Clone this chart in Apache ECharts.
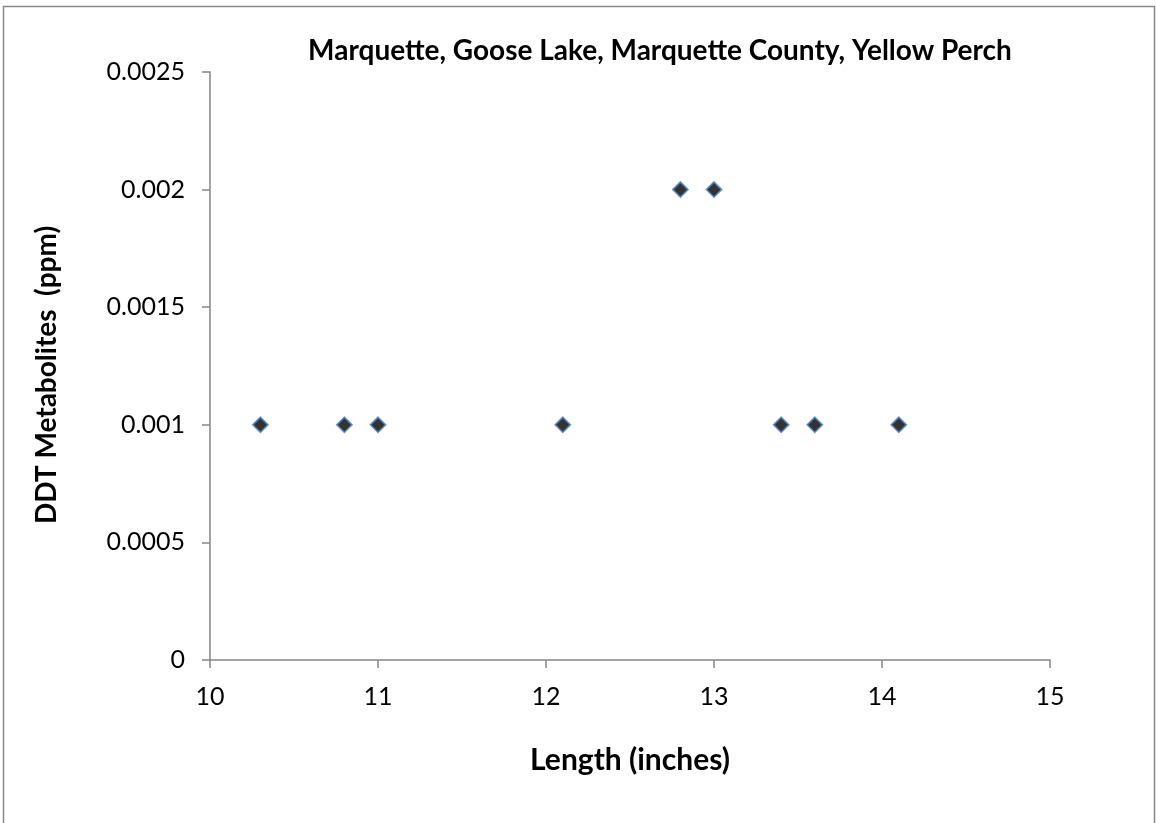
<!DOCTYPE html>
<html><head><meta charset="utf-8">
<script src="https://cdn.jsdelivr.net/npm/echarts@6/dist/echarts.min.js"></script>
<style>html,body{margin:0;padding:0;background:#fff}#c{width:1156px;height:823px}</style>
</head><body><div id="c"></div>
<script>
const lengths = [10.3, 10.8, 11.0, 12.1, 12.8, 13.0, 13.4, 13.6, 14.1];
const ddt = [0.001, 0.001, 0.001, 0.001, 0.002, 0.002, 0.001, 0.001, 0.001];
const titleText = 'Marquette, Goose Lake, Marquette County, Yellow Perch';
const xName = 'Length (inches)';
const yName = 'DDT Metabolites  (ppm)';
const yTicks = ['0','0.0005','0.001','0.0015','0.002','0.0025'];

const FONT = 'Lato, "Open Sans", sans-serif';
const chart = echarts.init(document.getElementById('c'));
chart.setOption({
  animation: false,
  backgroundColor: '#fff',
  title: {text: titleText, left: 655, top: 32, textAlign: 'center',
    textStyle: {fontFamily: FONT, fontWeight: 'bold', fontSize: 28, color: '#000'}},
  graphic: [{type: 'rect', shape: {x: 3.5, y: 6.5, width: 1151, height: 820},
    style: {fill: 'none', stroke: '#888', lineWidth: 1.5}, silent: true}],
  grid: {left: 210, right: 106, top: 72, bottom: 163},
  xAxis: {type: 'value', min: 10, max: 15, interval: 1,
    name: xName, nameLocation: 'middle', nameGap: 85,
    nameTextStyle: {fontFamily: FONT, fontWeight: 'bold', fontSize: 30, color: '#000'},
    axisLine: {show: true, lineStyle: {color: '#868686', width: 1.5}},
    axisTick: {show: true, inside: false, length: 8, lineStyle: {color: '#868686', width: 1.5}},
    axisLabel: {fontFamily: FONT, fontSize: 25, color: '#000', margin: 24},
    splitLine: {show: false}},
  yAxis: {type: 'value', min: 0, max: 0.0025, interval: 0.0005,
    name: yName, nameLocation: 'middle', nameGap: 149,
    nameTextStyle: {fontFamily: FONT, fontWeight: 'bold', fontSize: 28, color: '#000',
      padding: [0, 18, 0, 0]},
    axisLine: {show: true, lineStyle: {color: '#868686', width: 1.5}},
    axisTick: {show: true, inside: false, length: 8, lineStyle: {color: '#868686', width: 1.5}},
    axisLabel: {fontFamily: FONT, fontSize: 25, color: '#000', margin: 25,
      formatter: (v) => yTicks[Math.round(v / 0.0005)]},
    splitLine: {show: false}},
  series: [{type: 'scatter', symbol: 'diamond', symbolSize: 15,
    data: lengths.map((x, i) => [x, ddt[i]]),
    itemStyle: {color: '#000', borderColor: '#4a7ebb', borderWidth: 1.8}}]
});
</script></body></html>
